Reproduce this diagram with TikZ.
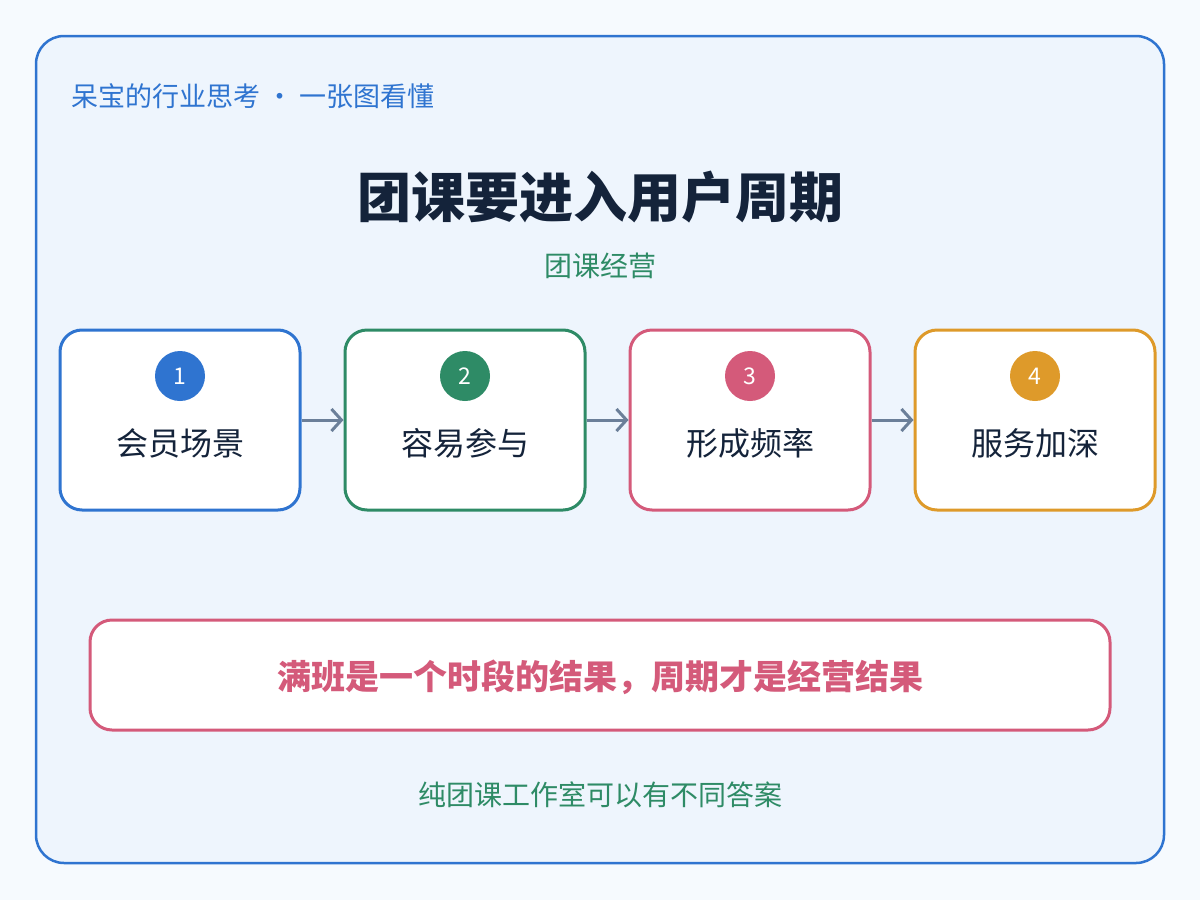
\documentclass[tikz,border=0pt]{standalone}
\usepackage{fontspec}
\setmainfont{Noto Sans CJK SC}
\usetikzlibrary{arrows.meta}
\definecolor{cblue}{HTML}{2F74D0}
\definecolor{cgreen}{HTML}{2E8B66}
\definecolor{cpink}{HTML}{D45A7A}
\definecolor{corange}{HTML}{DE9A2A}
\definecolor{ctitle}{HTML}{14233A}
\definecolor{cbg}{HTML}{EEF5FD}
\definecolor{carrow}{HTML}{6B7F99}
\begin{document}
\begin{tikzpicture}[x=1pt,y=-1pt,
 step/.style={draw=#1,line width=3pt,rounded corners=22pt,fill=white,minimum width=240pt,minimum height=180pt},
 num/.style={circle,fill=#1,minimum size=50pt,inner sep=0pt,text=white,font=\fontsize{23}{23}\selectfont},
 lab/.style={text=ctitle,font=\fontsize{32}{34}\selectfont},
 arr/.style={-{Straight Barb[length=10pt,width=22pt]},line width=3pt,draw=carrow}]
\useasboundingbox[fill=white!50!cbg] (0,0) rectangle (1200,900);
\draw[cblue,line width=2.5pt,fill=cbg,rounded corners=28pt] (36,36) rectangle (1164,863);
\node[anchor=west,text=cblue,font=\fontsize{27}{29}\selectfont] (hdr) at (68,96) {呆宝的行业思考 · 一张图看懂};
\node[text=ctitle,font=\fontsize{54}{58}\selectfont\bfseries] (title) at (600,197) {团课要进入用户周期};
\node[text=cgreen,font=\fontsize{28}{30}\selectfont] (sub) at (600,266) {团课经营};
\foreach \i/\x/\c/\t in {1/180/cblue/会员场景,2/465/cgreen/容易参与,3/750/cpink/形成频率,4/1035/corange/服务加深}{
 \node[step=\c] (b\i) at (\x,420) {};
 \node[num=\c] (n\i) at (\x,376) {\i};
 \node[lab] (l\i) at (\x,443) {\t};
}
\draw[arr] (b1.east) -- (b2.west);
\draw[arr] (b2.east) -- (b3.west);
\draw[arr] (b3.east) -- (b4.west);
\node[draw=cpink,line width=3pt,rounded corners=22pt,fill=white,minimum width=1020pt,minimum height=110pt] (bot) at (600,675) {};
\node[text=cpink,font=\fontsize{34}{36}\selectfont\bfseries] (bott) at (600,677) {满班是一个时段的结果，周期才是经营结果};
\node[text=cgreen,font=\fontsize{28}{30}\selectfont] (foot) at (600,795) {纯团课工作室可以有不同答案};
\end{tikzpicture}
\end{document}
